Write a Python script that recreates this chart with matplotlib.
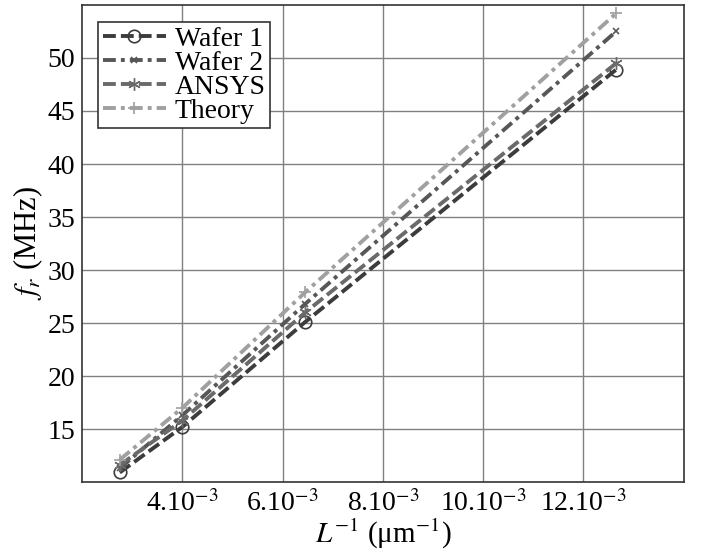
import matplotlib
matplotlib.use("Agg")
import matplotlib.pyplot as plt

plt.rcParams['font.family'] = ['Liberation Serif', 'DejaVu Serif']
plt.rcParams['mathtext.fontset'] = 'stix'

# inverse length (1/um)
inv_len = [2.75e-3, 4.0e-3, 6.45e-3, 12.65e-3]

wafer1 = [10.9, 15.2, 25.1, 48.9]
wafer2 = [11.3, 16.3, 26.8, 52.5]
ansys = [11.6, 15.8, 26.0, 49.5]
theory = [12.1, 17.0, 27.9, 54.2]

xticks = [4e-3, 6e-3, 8e-3, 10e-3, 12e-3]
xticklabels = ['4.10$^{-3}$', '6.10$^{-3}$', '8.10$^{-3}$', '10.10$^{-3}$', '12.10$^{-3}$']
yticks = [15, 20, 25, 30, 35, 40, 45, 50]

fig = plt.figure(figsize=(7.02, 5.55), dpi=100)
ax = fig.add_axes([0.117, 0.1315, 0.857, 0.8595])

ax.plot(inv_len, wafer1, color='#3c3c3c', lw=2.8, marker='o', ms=9,
        mfc='none', mec='#3c3c3c', mew=1.2, label='Wafer 1', dashes=(3.3, 1.3))
ax.plot(inv_len, wafer2, color='#575757', lw=2.8, marker='x', ms=5,
        mew=1.2, label='Wafer 2', dashes=(3.3, 1.3, 1, 1.3))
ax.plot(inv_len, ansys, color='#6a6a6a', lw=2.8, marker=(6, 2, 0), ms=9,
        mew=1.0, label='ANSYS', dashes=(3.3, 1.3))
ax.plot(inv_len, theory, color='#a0a0a0', lw=2.8, marker='+', ms=9,
        mew=1.2, label='Theory', dashes=(3.3, 1.3, 1, 1.3))

ax.set_xlim(2e-3, 14e-3)
ax.set_ylim(10, 55)
ax.set_xticks(xticks)
ax.set_xticklabels(xticklabels)
ax.set_yticks(yticks)
ax.tick_params(labelsize=20, length=0, pad=5)
ax.tick_params(axis='x', pad=6)
ax.grid(True, color='#808080', lw=1.0)
for s in ax.spines.values():
    s.set_linewidth(1.2)
    s.set_color('#333333')

ax.set_xlabel('$L^{-1}$ (μm$^{-1}$)', fontsize=21, labelpad=0)
ax.set_ylabel('$f_r$ (MHz)', fontsize=22, labelpad=2)

leg = ax.legend(loc='upper left', fontsize=20, handlelength=2.3, handletextpad=0.3,
                labelspacing=-0.05, borderpad=0.15, borderaxespad=0, fancybox=False,
                framealpha=1, edgecolor='#333333', bbox_to_anchor=(0.027, 0.964))
leg.get_frame().set_linewidth(1.2)

fig.savefig('out.png', dpi=100)
